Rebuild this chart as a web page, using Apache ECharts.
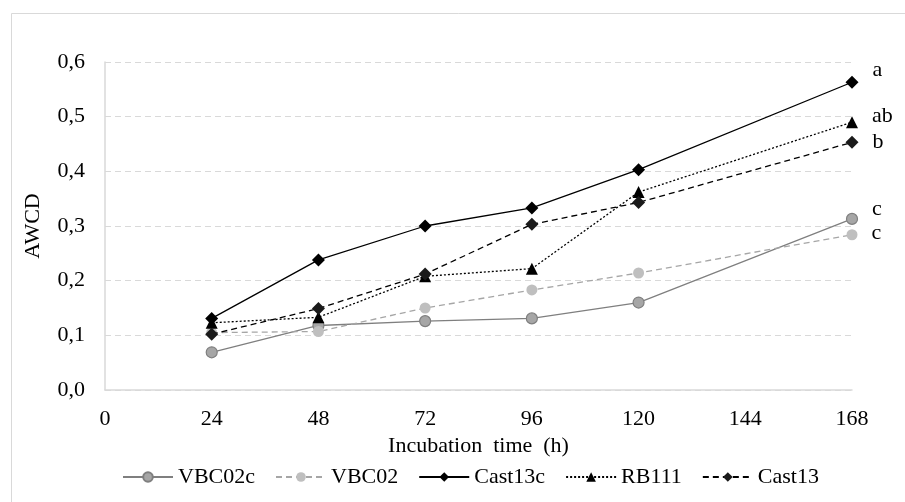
<!DOCTYPE html>
<html>
<head>
<meta charset="utf-8">
<script src="https://cdn.jsdelivr.net/npm/echarts@6/dist/echarts.min.js"></script>
<style>
  html, body { margin: 0; padding: 0; background: #fff; }
  #chart { width: 905px; height: 502px; }
</style>
</head>
<body>
<div id="chart"></div>
<script>
// incubation hours and AWCD readings per isolate
var hours = [24, 48, 72, 96, 120, 168];
var vbc02c = [0.069, 0.118, 0.126, 0.131, 0.160, 0.313];
var vbc02 = [0.105, 0.107, 0.150, 0.183, 0.214, 0.284];
var cast13c = [0.131, 0.238, 0.300, 0.333, 0.403, 0.563];
var rb111 = [0.123, 0.133, 0.208, 0.222, 0.362, 0.490];
var cast13 = [0.102, 0.149, 0.212, 0.303, 0.343, 0.453];
var letters = ['c', 'c', 'a', 'ab', 'b'];

var font = 'Liberation Serif';
var fs = 22;

function pairs(vals) {
  return hours.map(function (h, i) { return [h, vals[i]]; });
}

function endLabel(txt, dy) {
  return {
    show: true,
    position: 'right',
    distance: 14,
    offset: [0, dy],
    fontFamily: font,
    fontSize: fs,
    color: '#000',
    formatter: function (p) {
      return p.dataIndex === hours.length - 1 ? txt : '';
    }
  };
}

function lineSeries(name, vals, opt) {
  return {
    name: name,
    type: 'line',
    data: pairs(vals),
    symbol: opt.symbol,
    symbolSize: opt.size,
    showSymbol: true,
    animation: false,
    lineStyle: { color: opt.line, width: opt.width || 1.3, type: opt.dash || 'solid' },
    itemStyle: { color: opt.fill, borderColor: opt.border || opt.fill, borderWidth: opt.border ? 1.2 : 0 },
    label: endLabel(opt.letter, opt.dy),
    z: opt.z || 2
  };
}

var chart = echarts.init(document.getElementById('chart'));

chart.setOption({
  backgroundColor: '#fff',
  textStyle: { fontFamily: font },
  graphic: [{
    type: 'rect',
    shape: { x: 11.5, y: 13.5, width: 905, height: 500 },
    style: { fill: 'none', stroke: '#d9d9d9', lineWidth: 1 },
    silent: true
  }],
  grid: { left: 105, right: 53, top: 62, bottom: 112 },
  legend: {
    left: 117,
    bottom: 9,
    itemWidth: 50,
    itemHeight: 12,
    itemGap: 20,
    textStyle: { fontFamily: font, fontSize: fs, color: '#000' },
    data: ['VBC02c', 'VBC02', 'Cast13c', 'RB111', 'Cast13']
  },
  xAxis: {
    type: 'value',
    min: 0,
    max: 168,
    interval: 24,
    name: 'Incubation  time  (h)',
    nameLocation: 'middle',
    nameGap: 42,
    nameTextStyle: { fontFamily: font, fontSize: fs, color: '#000' },
    axisLine: { lineStyle: { color: '#d9d9d9', width: 1.5 } },
    axisTick: { show: false },
    axisLabel: { margin: 18, fontFamily: font, fontSize: fs, color: '#000' },
    splitLine: { show: false }
  },
  yAxis: {
    type: 'value',
    min: 0,
    max: 0.6,
    interval: 0.1,
    name: 'AWCD',
    nameLocation: 'middle',
    nameGap: 61,
    nameRotate: 90,
    nameTextStyle: { fontFamily: font, fontSize: fs, color: '#000' },
    axisLine: { show: true, lineStyle: { color: '#d9d9d9', width: 1.5 } },
    axisTick: { show: false },
    axisLabel: {
      margin: 20,
      fontFamily: font,
      fontSize: fs,
      color: '#000',
      formatter: function (v) { return v.toFixed(1).replace('.', ','); }
    },
    splitLine: { lineStyle: { color: '#d9d9d9', type: [6, 4], width: 1 } }
  },
  series: [
    lineSeries('VBC02c', vbc02c, { symbol: 'circle', size: 11, line: '#7f7f7f', fill: '#a6a6a6', border: '#7f7f7f', letter: letters[0], dy: -10 }),
    lineSeries('VBC02', vbc02, { symbol: 'circle', size: 11, line: '#a6a6a6', fill: '#bfbfbf', dash: [6, 4], letter: letters[1], dy: -2 }),
    lineSeries('Cast13c', cast13c, { symbol: 'diamond', size: 13, line: '#000', fill: '#000', letter: letters[2], dy: -12, z: 4 }),
    lineSeries('RB111', rb111, { symbol: 'triangle', size: 12, line: '#000', fill: '#000', dash: [2, 2], letter: letters[3], dy: -6, z: 3 }),
    lineSeries('Cast13', cast13, { symbol: 'diamond', size: 13, line: '#000', fill: '#1a1a1a', dash: [6, 4], letter: letters[4], dy: 0, z: 3 })
  ]
});
</script>
</body>
</html>
